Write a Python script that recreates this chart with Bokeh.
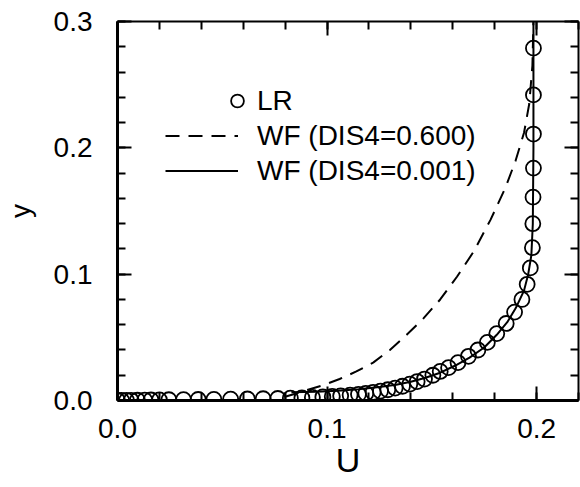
import math
from bokeh.plotting import figure
from bokeh.models import (Range1d, LinearAxis, SingleIntervalTicker, Legend, LegendItem,
                          PrintfTickFormatter)
from bokeh.embed import file_html
from bokeh.resources import INLINE

# ---- data ----
lr_y = [0.279, 0.242, 0.211, 0.184, 0.161, 0.140, 0.121, 0.105, 0.092, 0.080,
        0.070, 0.061, 0.053, 0.046, 0.040, 0.035, 0.030, 0.026, 0.023, 0.020,
        0.017, 0.015, 0.013, 0.0113, 0.0098, 0.0085, 0.0074, 0.0065, 0.0056, 0.0049,
        0.0043, 0.0037, 0.0032, 0.0028, 0.0025, 0.0021, 0.0019, 0.0016, 0.0014, 0.0012,
        0.0011, 0.0009, 0.0008, 0.0007, 0.0006, 0.0005, 0.0004, 0.0003, 0.0002, 0.00015,
        0.0001, 0.00005, 0.0]
lr_u = [0.1985, 0.1985, 0.1985, 0.1985, 0.1983, 0.1982, 0.1980, 0.1970, 0.1955, 0.1930,
        0.1895, 0.1855, 0.1810, 0.1765, 0.1720, 0.1675, 0.1625, 0.1580, 0.1540, 0.1505,
        0.1465, 0.1430, 0.1395, 0.1360, 0.1325, 0.1290, 0.1255, 0.1220, 0.1185, 0.1150,
        0.1110, 0.1065, 0.1025, 0.0980, 0.0930, 0.0880, 0.0825, 0.0765, 0.0695, 0.0620,
        0.0540, 0.0460, 0.0385, 0.0315, 0.0245, 0.0200, 0.0160, 0.0130, 0.0095, 0.0065,
        0.0043, 0.0020, 0.0]

wf600_u = [0.080, 0.090, 0.098, 0.106, 0.114, 0.122, 0.130, 0.138, 0.146, 0.154,
           0.162, 0.170, 0.178, 0.185, 0.190, 0.194, 0.1965, 0.198, 0.1985]
wf600_y = [0.003, 0.008, 0.012, 0.017, 0.023, 0.030, 0.040, 0.052, 0.065, 0.080,
           0.098, 0.118, 0.143, 0.168, 0.190, 0.212, 0.235, 0.265, 0.300]

wf001_u = [0.083, 0.095, 0.105, 0.115, 0.125, 0.133, 0.140, 0.147, 0.154, 0.161,
           0.168, 0.175, 0.181, 0.186, 0.190, 0.194, 0.196, 0.1975, 0.1982, 0.1985, 0.1985]
wf001_y = [0.0065, 0.0070, 0.0078, 0.0090, 0.0106, 0.0125, 0.0148, 0.0180, 0.0220, 0.0275,
           0.0340, 0.0420, 0.0520, 0.0620, 0.0730, 0.0870, 0.1000, 0.1150, 0.1400, 0.2000, 0.3000]

x_title = "U"
y_title = "y"
labels = ["LR", "WF (DIS4=0.600)", "WF (DIS4=0.001)"]

FONT = "Liberation Sans"

p = figure(width=580, height=487, x_range=Range1d(0, 0.22), y_range=Range1d(0, 0.3001),
           output_backend="svg", toolbar_location=None,
           min_border_left=117, min_border_right=2, min_border_top=21, min_border_bottom=87)
p.xgrid.visible = False
p.ygrid.visible = False
p.outline_line_color = None
p.background_fill_color = "white"
p.border_fill_color = "white"


def style(ax, lw, show=True, standoff=0):
    ax.ticker = SingleIntervalTicker(interval=0.1, num_minor_ticks=5)
    ax.major_tick_in = 14
    ax.major_tick_out = 0
    ax.minor_tick_in = 8
    ax.minor_tick_out = 0
    ax.major_tick_line_width = 2
    ax.minor_tick_line_width = 2
    ax.major_tick_line_color = "black"
    ax.minor_tick_line_color = "black"
    ax.axis_line_width = lw
    ax.axis_line_color = "black"
    ax.formatter = PrintfTickFormatter(format="%.1f")
    if show:
        ax.major_label_text_font = FONT
        ax.major_label_text_font_size = "28px"
        ax.major_label_text_color = "black"
        ax.major_label_standoff = standoff
    else:
        ax.major_label_text_font_size = "1px"
        ax.major_label_text_color = None
        ax.major_label_standoff = 0


xa = p.xaxis[0]
ya = p.yaxis[0]
style(xa, 3, True, 18)
style(ya, 3, True, 25)
xa.axis_label = x_title
xa.axis_label_text_font = FONT
xa.axis_label_text_font_size = "34px"
xa.axis_label_text_font_style = "normal"
xa.axis_label_text_color = "black"
xa.axis_label_standoff = 0
ya.axis_label = y_title
ya.axis_label_text_font = FONT
ya.axis_label_text_font_size = "28px"
ya.axis_label_text_font_style = "normal"
ya.axis_label_text_color = "black"
ya.axis_label_standoff = 15

top = LinearAxis()
right = LinearAxis()
style(top, 2, False)
style(right, 2, False)
p.add_layout(top, "above")
p.add_layout(right, "right")

lr = p.scatter(lr_u, lr_y, marker="circle", size=15, fill_color=None,
               line_color="black", line_width=1.8)
wf6 = p.line(wf600_u, wf600_y, line_color="black", line_width=2, line_dash="14 9")
wf1 = p.line(wf001_u, wf001_y, line_color="black", line_width=2)

common = dict(padding=0, margin=0, spacing=0, border_line_color=None,
              background_fill_alpha=0, label_text_font=FONT, label_text_font_size="28px",
              label_text_color="black", glyph_height=35, label_height=35)
leg1 = Legend(items=[LegendItem(label=labels[0], renderers=[lr])], location=(104, 282),
              glyph_width=32, label_standoff=4, **common)
leg2 = Legend(items=[LegendItem(label=labels[1], renderers=[wf6]),
                     LegendItem(label=labels[2], renderers=[wf1])], location=(48, 212),
              glyph_width=73, label_standoff=19, **common)
p.add_layout(leg1)
p.add_layout(leg2)

open("out.html", "w").write(file_html(p, INLINE))
